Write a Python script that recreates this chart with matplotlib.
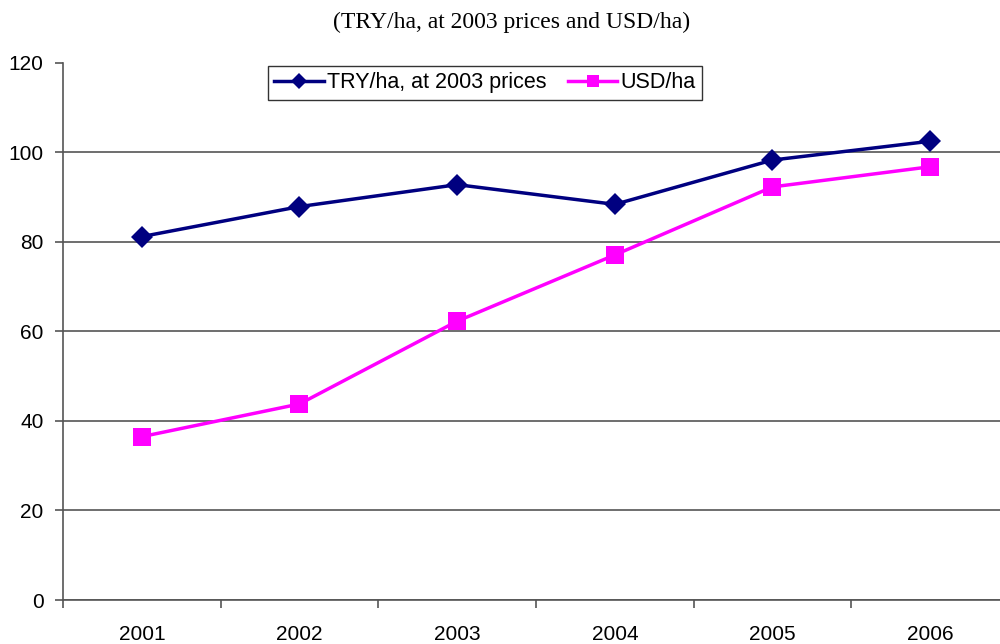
import numpy as np
import matplotlib.pyplot as plt
from matplotlib.ticker import FixedLocator, NullFormatter

years = ['2001', '2002', '2003', '2004', '2005', '2006']
try_per_ha = [81.2, 87.9, 92.8, 88.4, 98.3, 102.5]
usd_per_ha = [36.5, 43.8, 62.3, 77.1, 92.3, 96.8]

plt.rcParams['font.family'] = ['Liberation Sans', 'DejaVu Sans']

fig = plt.figure(figsize=(10, 6.44), dpi=100)
ax = fig.add_axes([0.063, 0.0683, 0.946, 0.834])

x = np.arange(len(years))
ax.plot(x, try_per_ha, color='#000080', lw=2.5, marker='D', ms=11.5, mew=0,
        label='TRY/ha, at 2003 prices', zorder=3)
ax.plot(x, usd_per_ha, color='#ff00ff', lw=2.5, marker='s', ms=13, mew=0,
        label='USD/ha', zorder=3)

ax.set_xlim(-0.5, len(years) - 0.5)
ax.set_ylim(0, 120)
ax.set_yticks(np.arange(0, 121, 20))

# category labels on minor ticks, boundary ticks on major
ax.xaxis.set_major_locator(FixedLocator(np.arange(-0.5, len(years), 1.0)))
ax.xaxis.set_major_formatter(NullFormatter())
ax.xaxis.set_minor_locator(FixedLocator(x))
ax.set_xticklabels(years, minor=True)
ax.tick_params(axis='x', which='minor', length=0, pad=18, labelsize=15)
ax.tick_params(axis='x', which='major', length=6, width=1.2, color='#555555')
ax.tick_params(axis='y', length=6, width=1.2, color='#555555', pad=8, labelsize=15)

ax.yaxis.grid(True, color='#555555', lw=1.2)
ax.get_ygridlines()[-1].set_visible(False)
ax.set_axisbelow(True)

for s in ['top', 'right']:
    ax.spines[s].set_visible(False)
for s in ['left', 'bottom']:
    ax.spines[s].set_color('#555555')
    ax.spines[s].set_linewidth(1.2)

leg = ax.legend(loc='upper center', bbox_to_anchor=(0.485, 1 - 66 / 644),
                bbox_transform=fig.transFigure, ncol=2, fontsize=15.5,
                frameon=True, fancybox=False, edgecolor='black',
                handlelength=2.3, handletextpad=0.15, columnspacing=1.0,
                borderpad=0.3, borderaxespad=0, markerscale=0.7)
leg.get_frame().set_linewidth(1.0)

fig.text(0.512, 1 - 22 / 644, '(TRY/ha, at 2003 prices and USD/ha)',
         ha='center', va='center', fontsize=17, family='Liberation Serif')

fig.savefig('out.png', dpi=100)
